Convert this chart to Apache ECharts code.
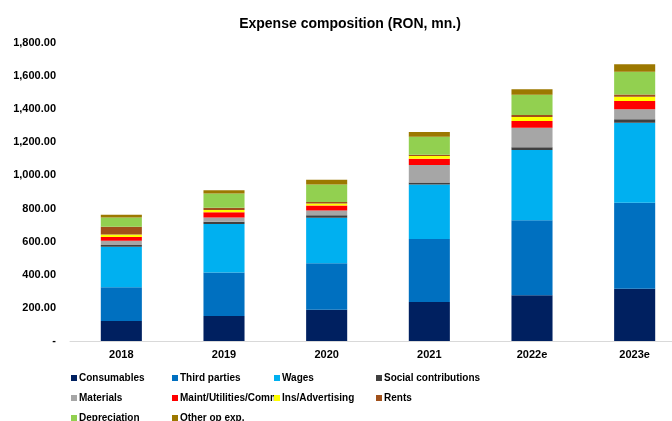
<!DOCTYPE html>
<html>
<head>
<meta charset="utf-8">
<script src="https://cdn.jsdelivr.net/npm/echarts@6/dist/echarts.min.js"></script>
<style>html,body{margin:0;padding:0;background:#fff;overflow:hidden}#c{width:686px;height:421px}</style>
</head>
<body>
<div id="c"></div>
<script>
var categories = ['2018', '2019', '2020', '2021', '2022e', '2023e'];
var consumables = [121, 151, 189, 236, 276, 316];
var thirdParties = [203, 263, 280, 380, 453, 519];
var wages = [245, 293, 276, 330, 424, 483];
var socialContributions = [11, 13, 14, 12, 17, 21];
var materials = [26, 26, 30, 105, 118, 61];
var maintUtilities = [22, 31, 30, 38, 41, 49];
var insAdvertising = [16, 14, 12, 17, 24, 26];
var rents = [46, 14, 8, 7, 12, 14];
var depreciation = [56, 86, 107, 109, 122, 137];
var otherOpExp = [16, 20, 28, 28, 33, 45];
var yTicks = [0, 200, 400, 600, 800, 1000, 1200, 1400, 1600, 1800];

var seriesDefs = [
  ['Consumables', consumables, '#002060'],
  ['Third parties', thirdParties, '#0070C0'],
  ['Wages', wages, '#00B0F0'],
  ['Social contributions', socialContributions, '#404040'],
  ['Materials', materials, '#A6A6A6'],
  ['Maint/Utilities/Comm', maintUtilities, '#FF0000'],
  ['Ins/Advertising', insAdvertising, '#FFFF00'],
  ['Rents', rents, '#A0501A'],
  ['Depreciation', depreciation, '#92D050'],
  ['Other op exp.', otherOpExp, '#9C7800']
];

var font = 'Liberation Sans, Arial, sans-serif';
function fmt(v) {
  if (v === 0) return '-';
  return v.toLocaleString('en-US', {minimumFractionDigits: 2, maximumFractionDigits: 2});
}
var legendCols = [
  [['Consumables', 'Materials', 'Depreciation'], 71],
  [['Third parties', 'Maint/Utilities/Comm', 'Other op exp.'], 172],
  [['Wages', 'Ins/Advertising'], 274],
  [['Social contributions', 'Rents'], 376]
];
var legends = legendCols.map(function (c) {
  return {
    data: c[0], left: c[1], top: 372, orient: 'vertical', width: 110, height: 90,
    padding: 0,
    itemWidth: 6, itemHeight: 6, itemGap: 8, icon: 'rect',
    textStyle: {fontFamily: font, fontWeight: 'bold', fontSize: 10, lineHeight: 12, color: '#000', padding: [0, 0, 0, -3]},
    selectedMode: false
  };
});

var chart = echarts.init(document.getElementById('c'));
chart.setOption({
  animation: false,
  title: {
    text: 'Expense composition (RON, mn.)', left: 345, top: 12, textAlign: 'center',
    textStyle: {fontFamily: font, fontWeight: 'bold', fontSize: 14, color: '#000'}
  },
  legend: legends,
  grid: {left: 70, right: 0, top: 43, height: 298, containLabel: false},
  xAxis: {
    type: 'category', data: categories,
    axisLine: {lineStyle: {color: '#D9D9D9'}},
    axisTick: {show: false},
    axisLabel: {fontFamily: font, fontWeight: 'bold', fontSize: 11, color: '#000', margin: 8}
  },
  yAxis: {
    type: 'value', min: yTicks[0], max: yTicks[yTicks.length - 1], interval: 200,
    splitLine: {show: false}, axisLine: {show: false}, axisTick: {show: false},
    axisLabel: {fontFamily: font, fontWeight: 'bold', fontSize: 11, color: '#000', margin: 14, formatter: fmt}
  },
  series: seriesDefs.map(function (s) {
    return {
      name: s[0], type: 'bar', stack: 'total', data: s[1], barWidth: '40%',
      itemStyle: {color: s[2]}
    };
  })
});
</script>
</body>
</html>
